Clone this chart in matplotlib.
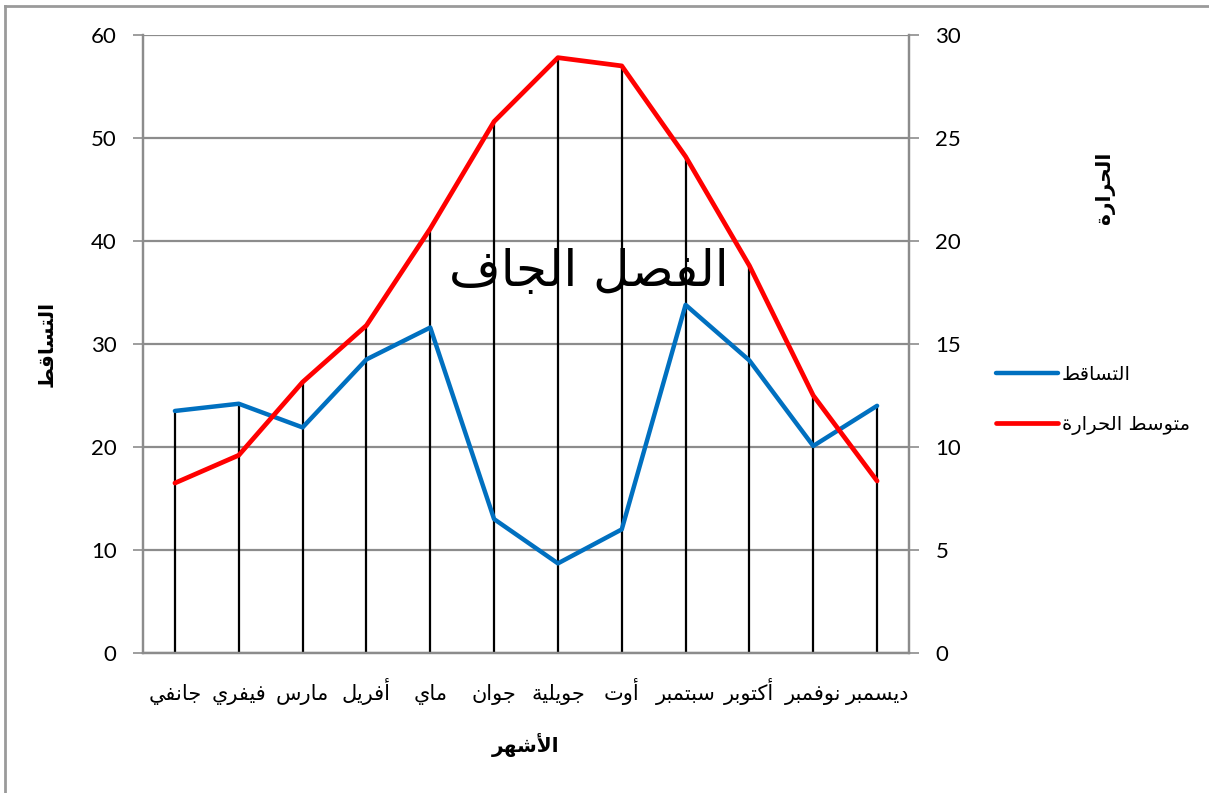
import numpy as np
import matplotlib
matplotlib.use('Agg')
import matplotlib.pyplot as plt
from matplotlib.lines import Line2D

# Arabic presentation forms: (isolated, final, initial, medial)
FORMS = {
  'ا': ('\uFE8D', '\uFE8E', None, None),
  'أ': ('\uFE83', '\uFE84', None, None),
  'ب': ('\uFE8F', '\uFE90', '\uFE91', '\uFE92'),
  'ة': ('\uFE93', '\uFE94', None, None),
  'ت': ('\uFE95', '\uFE96', '\uFE97', '\uFE98'),
  'ج': ('\uFE9D', '\uFE9E', '\uFE9F', '\uFEA0'),
  'ح': ('\uFEA1', '\uFEA2', '\uFEA3', '\uFEA4'),
  'د': ('\uFEA9', '\uFEAA', None, None),
  'ر': ('\uFEAD', '\uFEAE', None, None),
  'س': ('\uFEB1', '\uFEB2', '\uFEB3', '\uFEB4'),
  'ش': ('\uFEB5', '\uFEB6', '\uFEB7', '\uFEB8'),
  'ص': ('\uFEB9', '\uFEBA', '\uFEBB', '\uFEBC'),
  'ط': ('\uFEC1', '\uFEC2', '\uFEC3', '\uFEC4'),
  'ف': ('\uFED1', '\uFED2', '\uFED3', '\uFED4'),
  'ق': ('\uFED5', '\uFED6', '\uFED7', '\uFED8'),
  'ك': ('\uFED9', '\uFEDA', '\uFEDB', '\uFEDC'),
  'ل': ('\uFEDD', '\uFEDE', '\uFEDF', '\uFEE0'),
  'م': ('\uFEE1', '\uFEE2', '\uFEE3', '\uFEE4'),
  'ن': ('\uFEE5', '\uFEE6', '\uFEE7', '\uFEE8'),
  'ه': ('\uFEE9', '\uFEEA', '\uFEEB', '\uFEEC'),
  'و': ('\uFEED', '\uFEEE', None, None),
  'ي': ('\uFEF1', '\uFEF2', '\uFEF3', '\uFEF4'),
}
LAM_ALEF = {'ا': ('\uFEFB', '\uFEFC'), 'أ': ('\uFEF7', '\uFEF8')}

def shape(text):
  out = []
  i = 0
  n = len(text)
  while i < n:
    c = text[i]
    if c not in FORMS:
      out.append(c)
      i += 1
      continue
    prev = text[i-1] if i > 0 else ''
    joins_prev = prev in FORMS and FORMS[prev][2] is not None
    if c == 'ل' and i + 1 < n and text[i+1] in LAM_ALEF:
      lig = LAM_ALEF[text[i+1]]
      out.append(lig[1] if joins_prev else lig[0])
      i += 2
      continue
    nxt = text[i+1] if i + 1 < n else ''
    joins_next = FORMS[c][2] is not None and nxt in FORMS
    iso, fin, ini, med = FORMS[c]
    if joins_prev and joins_next: g = med
    elif joins_prev: g = fin
    elif joins_next: g = ini
    else: g = iso
    out.append(g)
    i += 1
  return ''.join(out)[::-1]

months = ['جانفي', 'فيفري', 'مارس', 'أفريل', 'ماي', 'جوان', 'جويلية',
          'أوت', 'سبتمبر', 'أكتوبر', 'نوفمبر', 'ديسمبر']
precip = [23.5, 24.2, 21.9, 28.5, 31.6, 13.0, 8.7, 12.0, 33.8, 28.4, 20.1, 24.0]
temp   = [8.25, 9.6, 13.15, 15.9, 20.6, 25.8, 28.9, 28.5, 24.1, 18.8, 12.5, 8.35]

label_precip = 'التساقط'
label_temp = 'متوسط الحرارة'
label_months = 'الأشهر'
label_heat = 'الحرارة'
title_text = 'الفصل الجاف'

blue = '#0070C0'
red = '#FF0000'
grey = '#8C8C8C'
arabic_font = 'DejaVu Sans'
num_font = 'Lato'

fig = plt.figure(figsize=(12.09, 7.93), dpi=100)
ax = fig.add_axes([143/1209, 1 - 653/793, (909 - 143)/1209, (653 - 35)/793])
ax2 = ax.twinx()

x = np.arange(len(months))
ax.set_xlim(-0.5, len(months) - 0.5)
ax.set_ylim(0, 60)
ax2.set_ylim(0, 30)
ax.set_yticks(np.arange(0, 61, 10))
ax2.set_yticks(np.arange(0, 31, 5))

ax.yaxis.grid(True, color=grey, linewidth=1.6, zorder=0)
ax.set_axisbelow(True)

# drop lines from the higher of the two series down to the axis
temp_pix = ax2.transData.transform(np.column_stack([x, temp]))
temp_left = ax.transData.inverted().transform(temp_pix)[:, 1]
tops = np.maximum(precip, temp_left)
ax.vlines(x, 0, tops, color='black', linewidth=1.6, zorder=2)

ax.plot(x, precip, color=blue, linewidth=3.2, solid_capstyle='round', zorder=3)
ax2.plot(x, temp, color=red, linewidth=3.4, solid_capstyle='round', zorder=3)

ax.set_xticks(x)
ax.set_xticklabels([shape(m) for m in months], fontsize=15, family=arabic_font)
ax.tick_params(axis='x', length=0, pad=34)
for lab in ax.get_xticklabels():
  lab.set_verticalalignment('baseline')
ax.tick_params(axis='y', direction='out', length=7, width=1.2, color=grey, pad=12, labelsize=16)
ax2.tick_params(axis='y', direction='out', length=7, width=1.2, color=grey, pad=12, labelsize=16)
for lab in ax.get_yticklabels() + ax2.get_yticklabels():
  lab.set_family(num_font)

for a in (ax, ax2):
  a.spines['top'].set_visible(False)
  for sp in ('left', 'right', 'bottom'):
    a.spines[sp].set_color(grey)
    a.spines[sp].set_linewidth(1.6)

ax.set_xlabel(shape(label_months), fontsize=14.5, fontweight='bold', family=arabic_font, labelpad=20)
fig.text(47/1209, 1 - 344/793, shape(label_precip), rotation=90, ha='center', va='center',
         fontsize=14.5, fontweight='bold', family=arabic_font)
fig.text(1105/1209, 1 - 188/793, shape(label_heat), rotation=90, ha='center', va='center',
         fontsize=14.5, fontweight='bold', family=arabic_font)

ax.text(589/1209, 1 - 272/793, shape(title_text), transform=fig.transFigure, ha='center', va='center',
        fontsize=36, family=arabic_font, zorder=4)

handles = [Line2D([], [], color=blue, linewidth=3.2, solid_capstyle='round'),
           Line2D([], [], color=red, linewidth=3.4, solid_capstyle='round')]
fig.legend(handles, [shape(label_precip), shape(label_temp)], loc='center left',
           bbox_to_anchor=(978/1209, 1 - 400/793), frameon=False, handlelength=3.2,
           handletextpad=0.2, labelspacing=1.6, prop={'family': arabic_font, 'size': 14})

# chart area border
fig.add_artist(Line2D([4.5/1209, 4.5/1209], [0, 1 - 6/793], color='#9A9A9A', linewidth=2, transform=fig.transFigure))
fig.add_artist(Line2D([4.5/1209, 1], [1 - 6/793, 1 - 6/793], color='#9A9A9A', linewidth=2, transform=fig.transFigure))

fig.savefig('out.png', dpi=100)
